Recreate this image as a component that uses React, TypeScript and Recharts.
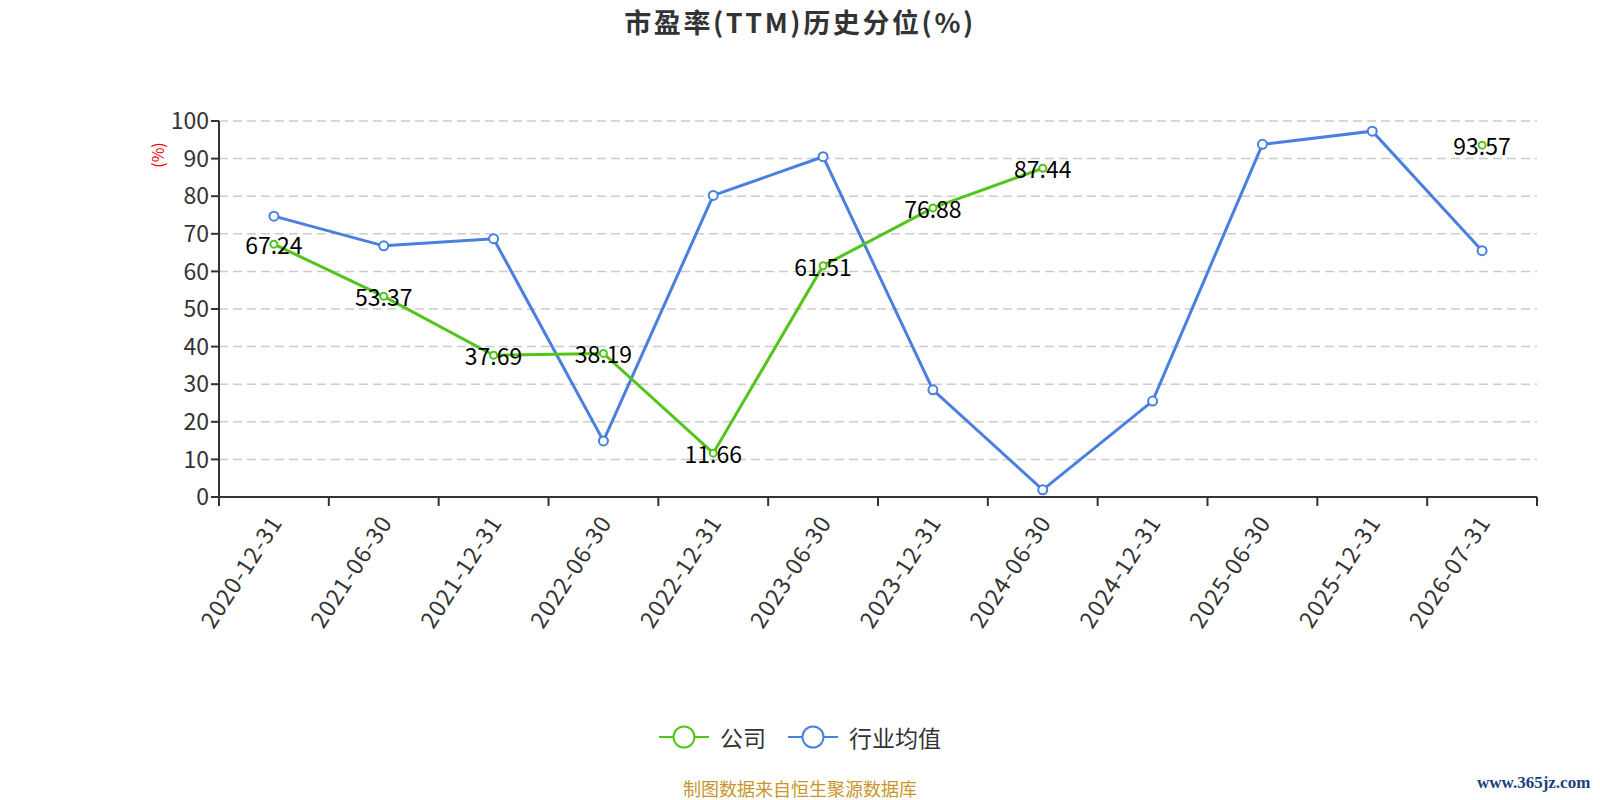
import React from "react";
import { LineChart, Line, XAxis, YAxis, CartesianGrid, LabelList } from "recharts";

const categories = [
  "2020-12-31", "2021-06-30", "2021-12-31", "2022-06-30", "2022-12-31", "2023-06-30",
  "2023-12-31", "2024-06-30", "2024-12-31", "2025-06-30", "2025-12-31", "2026-07-31",
];
const companyValues: (number | null)[] = [
  67.24, 53.37, 37.69, 38.19, 11.66, 61.51, 76.88, 87.44, null, null, null, 93.57,
];
const industryValues = [74.7, 66.8, 68.7, 14.9, 80.2, 90.5, 28.5, 1.9, 25.5, 93.8, 97.3, 65.5];
const yTicks = [0, 10, 20, 30, 40, 50, 60, 70, 80, 90, 100];

const data = categories.map((date, i) => ({
  date,
  company: companyValues[i],
  industry: industryValues[i],
}));

const FONT = "'Noto Sans CJK SC', 'Noto Sans', sans-serif";
const GREEN = "#52c41a";
const BLUE = "#4a7fe0";
const W = 1600;
const H = 660;
const PLOT_LEFT = 219;
const PLOT_RIGHT = 1537;
const PLOT_TOP = 121;
const PLOT_BOTTOM = 497;
const X_AXIS_H = 130;
const BAND = (PLOT_RIGHT - PLOT_LEFT) / categories.length;

function DateTick(props: any) {
  const { x, y, payload, index } = props;
  const left = x - BAND / 2;
  const tx = x + 1;
  const ty = y + 12;
  return (
    <g>
      <line x1={left} y1={y - 8} x2={left} y2={y + 1} stroke="#333" strokeWidth={2} />
      {index === categories.length - 1 && (
        <line x1={x + BAND / 2} y1={y - 8} x2={x + BAND / 2} y2={y + 1} stroke="#333" strokeWidth={2} />
      )}
      <text
        x={tx}
        y={ty}
        transform={`rotate(-57, ${tx}, ${ty})`}
        textAnchor="end"
        dominantBaseline="central"
        fontSize={23}
        letterSpacing={1}
        fill="#333"
        fontFamily={FONT}
      >
        {payload.value}
      </text>
    </g>
  );
}

function ValueLabel(props: any) {
  const { x, y, value } = props;
  if (value === null || value === undefined) return null;
  return (
    <text x={x} y={y} textAnchor="middle" dominantBaseline="central" fontSize={23} fill="#000" fontFamily={FONT}>
      {value.toFixed(2)}
    </text>
  );
}

function UnitLabel() {
  const x = PLOT_LEFT - 62;
  const y = PLOT_TOP + 34;
  return (
    <text
      x={x}
      y={y}
      transform={`rotate(-90, ${x}, ${y})`}
      textAnchor="middle"
      dominantBaseline="central"
      fontSize={16}
      fill="red"
      fontFamily={FONT}
    >
      (%)
    </text>
  );
}

function LegendIcon({ color }: { color: string }) {
  return (
    <svg width={50} height={26} style={{ verticalAlign: "middle" }}>
      <line x1={0} y1={13} x2={50} y2={13} stroke={color} strokeWidth={2} />
      <circle cx={25} cy={13} r={10.5} fill="#fff" stroke={color} strokeWidth={2} />
    </svg>
  );
}

export default function App() {
  return (
    <div
      style={{
        position: "absolute",
        top: 0,
        left: 0,
        width: W,
        height: 800,
        overflow: "hidden",
        fontFamily: FONT,
        background: "#fff",
      }}
    >
      <div
        style={{
          position: "absolute",
          left: 0,
          width: W,
          top: 2,
          textAlign: "center",
          fontSize: 27,
          letterSpacing: 2.6,
          fontWeight: "bold",
          color: "#333",
        }}
      >
        市盈率(TTM)历史分位(%)
      </div>
      <div style={{ position: "absolute", top: 0, left: 0 }}>
        <LineChart
          width={W}
          height={H}
          data={data}
          margin={{ top: PLOT_TOP, left: PLOT_LEFT - 60, right: W - PLOT_RIGHT, bottom: H - PLOT_BOTTOM - X_AXIS_H }}
        >
          <CartesianGrid vertical={false} stroke="#ccc" strokeWidth={1.5} strokeDasharray="9 5" />
          <XAxis
            dataKey="date"
            interval={0}
            height={X_AXIS_H}
            padding={{ left: BAND / 2, right: BAND / 2 }}
            stroke="#333"
            strokeWidth={2}
            tickLine={false}
            tick={<DateTick />}
          />
          <YAxis
            width={60}
            domain={[0, 100]}
            ticks={yTicks}
            interval={0}
            stroke="#333"
            strokeWidth={2}
            tickSize={8}
            tick={{ fontSize: 23, fill: "#333", fontFamily: FONT }}
            label={<UnitLabel />}
          />
          <Line
            dataKey="industry"
            stroke={BLUE}
            strokeWidth={3}
            dot={{ r: 4.5, fill: "#fff", stroke: BLUE, strokeWidth: 2 }}
            isAnimationActive={false}
          />
          <Line
            dataKey="company"
            stroke={GREEN}
            strokeWidth={3}
            dot={{ r: 3.5, fill: "#fff", stroke: GREEN, strokeWidth: 2 }}
            isAnimationActive={false}
          >
            <LabelList dataKey="company" content={<ValueLabel />} />
          </Line>
        </LineChart>
      </div>
      <div
        style={{
          position: "absolute",
          top: 720,
          left: 0,
          width: W,
          height: 34,
          display: "flex",
          justifyContent: "center",
          alignItems: "center",
          fontSize: 23,
          color: "#333",
        }}
      >
        <LegendIcon color={GREEN} />
        <span style={{ marginLeft: 11, marginRight: 22 }}>公司</span>
        <LegendIcon color={BLUE} />
        <span style={{ marginLeft: 11 }}>行业均值</span>
      </div>
      <div
        style={{
          position: "absolute",
          top: 778,
          left: 0,
          width: W,
          textAlign: "center",
          fontSize: 18,
          lineHeight: "21px",
          color: "#c8962a",
        }}
      >
        制图数据来自恒生聚源数据库
      </div>
      <div
        style={{
          position: "absolute",
          top: 772,
          left: 1477,
          fontSize: 17,
          lineHeight: "22px",
          fontWeight: "bold",
          color: "#1d3f7e",
          fontFamily: "'Liberation Serif', serif",
          whiteSpace: "nowrap",
        }}
      >
        www.365jz.com
      </div>
    </div>
  );
}
